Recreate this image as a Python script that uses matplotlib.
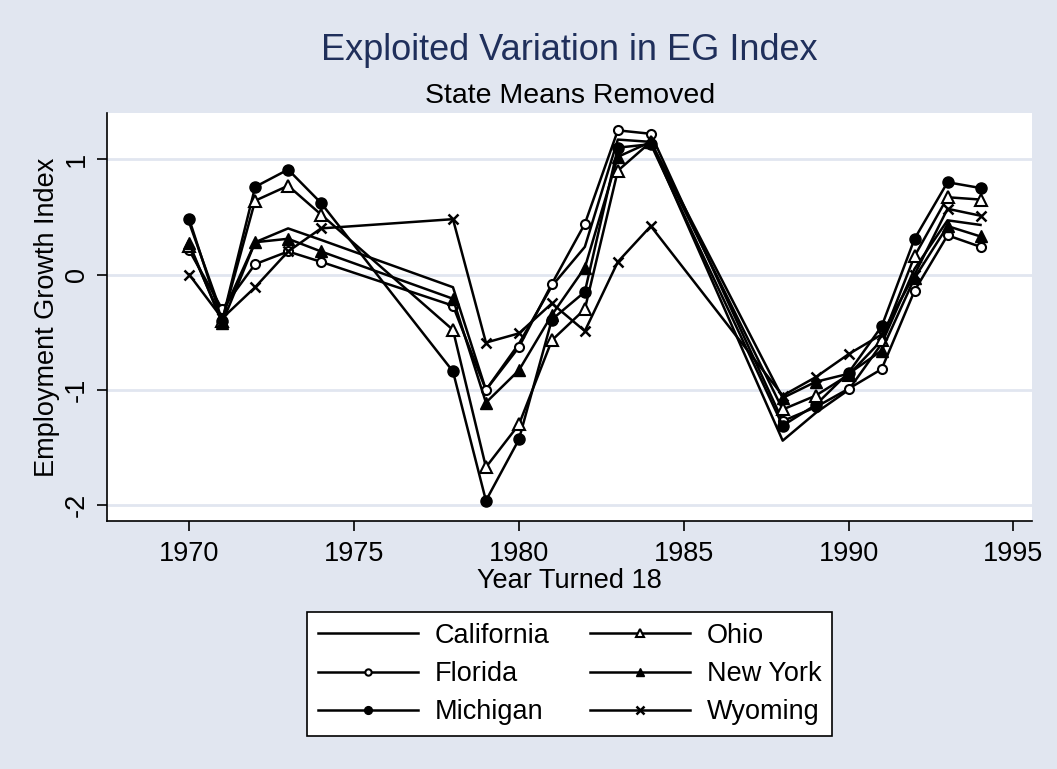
import matplotlib.pyplot as plt

plt.rcParams['font.family'] = ['Liberation Sans', 'DejaVu Sans']
plt.rcParams['axes.unicode_minus'] = False

years = [1970, 1971, 1972, 1973, 1974, 1978, 1979, 1980, 1981, 1982,
         1983, 1984, 1988, 1989, 1990, 1991, 1992, 1993, 1994]

california = [0.45, -0.35, 0.28, 0.40, 0.30, -0.11, -1.00, -0.60, -0.10, 0.24,
              1.17, 1.15, -1.44, -1.20, -1.00, -0.60, 0.05, 0.47, 0.43]
florida = [0.21, -0.30, 0.09, 0.20, 0.11, -0.27, -1.00, -0.63, -0.08, 0.44,
           1.25, 1.22, -1.27, -1.15, -0.99, -0.82, -0.14, 0.34, 0.24]
michigan = [0.48, -0.40, 0.76, 0.91, 0.62, -0.84, -1.96, -1.43, -0.39, -0.15,
            1.10, 1.13, -1.31, -1.13, -0.85, -0.45, 0.31, 0.80, 0.75]
ohio = [0.25, -0.40, 0.64, 0.77, 0.52, -0.48, -1.67, -1.30, -0.57, -0.30,
        0.90, 1.15, -1.17, -1.05, -0.87, -0.57, 0.16, 0.67, 0.65]
new_york = [0.27, -0.42, 0.28, 0.31, 0.20, -0.21, -1.11, -0.83, -0.35, 0.06,
            1.02, 1.15, -1.07, -0.93, -0.86, -0.66, -0.03, 0.42, 0.33]
wyoming = [0.00, -0.38, -0.11, 0.20, 0.40, 0.48, -0.59, -0.51, -0.25, -0.49,
           0.11, 0.42, -1.05, -0.89, -0.69, -0.52, 0.00, 0.57, 0.51]

bg = '#E1E6F0'
fs = 19.5
fig = plt.figure(figsize=(10.57, 7.69), dpi=100, facecolor=bg)
ax = fig.add_axes([0.101, 0.322, 0.875, 0.531])
ax.set_facecolor('white')

lw = 1.8
ax.plot(years, california, color='black', lw=lw, label='California')
ax.plot(years, florida, color='black', lw=lw, marker='o', ms=6.5,
        mfc='white', mec='black', mew=1.5, label='Florida')
ax.plot(years, michigan, color='black', lw=lw, marker='o', ms=8,
        label='Michigan')
ax.plot(years, ohio, color='black', lw=lw, marker='^', ms=8,
        mfc='white', mec='black', mew=1.5, label='Ohio')
ax.plot(years, new_york, color='black', lw=lw, marker='^', ms=8.5,
        label='New York')
ax.plot(years, wyoming, color='black', lw=lw, marker='x', ms=7.5, mew=1.8,
        label='Wyoming')

ax.set_xlim(1967.5, 1995.55)
ax.set_ylim(-2.14, 1.40)
ax.set_xticks([1970, 1975, 1980, 1985, 1990, 1995])
ax.set_yticks([-2, -1, 0, 1])
ax.grid(axis='y', color=bg, lw=2)
ax.set_axisbelow(True)

for s in ['top', 'right']:
    ax.spines[s].set_visible(False)
for s in ['left', 'bottom']:
    ax.spines[s].set_linewidth(1.2)
ax.tick_params(direction='out', length=7, width=1.2, labelsize=fs)
ax.tick_params(axis='x', pad=7)
ax.tick_params(axis='y', pad=5)
for lab in ax.get_yticklabels():
    lab.set_rotation(90)
    lab.set_va('center')

ax.set_xlabel('Year Turned 18', fontsize=fs, labelpad=1)
ax.set_ylabel('Employment Growth Index', fontsize=fs, labelpad=3)

fig.text(0.539, 0.922, 'Exploited Variation in EG Index', ha='center',
         va='baseline', fontsize=26, color='#1F2F5B')
fig.text(0.539, 0.866, 'State Means Removed', ha='center', va='baseline',
         fontsize=20.5)

leg = fig.legend(loc='center', bbox_to_anchor=(0.539, 0.1235), ncol=2,
                 fontsize=fs, handlelength=3.7, handletextpad=0.6,
                 markerscale=0.7, fancybox=False, edgecolor='black',
                 framealpha=1, columnspacing=1.5, labelspacing=0.45,
                 borderpad=0.4)
leg.get_frame().set_linewidth(1.2)

fig.savefig('out.png', dpi=100, facecolor=bg)
